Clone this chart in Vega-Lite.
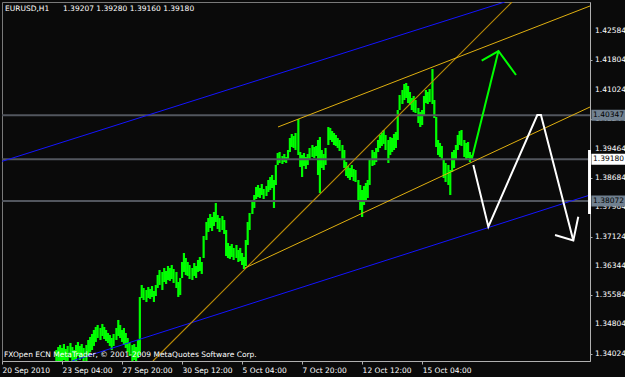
{
"$schema":"https://vega.github.io/schema/vega-lite/v6.json",
"width":588,"height":359,
"autosize":"none",
"padding":{"left":2,"top":2,"right":35,"bottom":16},
"background":"#0a0a0a",
"config":{"view":{"stroke":"#7a7a7a","strokeWidth":1},"font":"DejaVu Sans"},
"datasets":{
"bars":[
{"t":58,"h":1.34118,"l":1.33720},{"t":60,"h":1.34198,"l":1.33800},{"t":62,"h":1.34251,"l":1.33720},{"t":64,"h":1.34172,"l":1.33694},{"t":66,"h":1.34278,"l":1.33853},{"t":68,"h":1.34145,"l":1.33720},{"t":70,"h":1.34225,"l":1.33800},{"t":73,"h":1.34304,"l":1.33906},{"t":75,"h":1.34198,"l":1.33773},{"t":77,"h":1.34118,"l":1.33694},{"t":79,"h":1.34251,"l":1.33826},{"t":81,"h":1.34331,"l":1.33959},{"t":83,"h":1.34225,"l":1.33853},{"t":85,"h":1.34278,"l":1.33906},{"t":87,"h":1.34172,"l":1.33747},{"t":90,"h":1.34251,"l":1.33826},{"t":92,"h":1.34384,"l":1.33985},{"t":94,"h":1.34463,"l":1.34065},{"t":96,"h":1.34543,"l":1.34118},{"t":98,"h":1.34649,"l":1.34225},{"t":100,"h":1.34729,"l":1.34331},{"t":102,"h":1.34782,"l":1.34437},{"t":105,"h":1.34702,"l":1.34384},{"t":107,"h":1.34809,"l":1.34490},{"t":109,"h":1.34729,"l":1.34410},{"t":111,"h":1.34649,"l":1.34357},{"t":113,"h":1.34569,"l":1.34304},{"t":115,"h":1.34516,"l":1.34225},{"t":117,"h":1.34437,"l":1.34118},{"t":119,"h":1.34543,"l":1.34225},{"t":122,"h":1.34702,"l":1.34384},{"t":124,"h":1.34915,"l":1.34490},{"t":126,"h":1.34782,"l":1.34437},{"t":128,"h":1.34649,"l":1.34331},{"t":130,"h":1.34702,"l":1.34251},{"t":132,"h":1.34569,"l":1.34172},{"t":134,"h":1.34437,"l":1.34065},{"t":136,"h":1.34331,"l":1.33959},{"t":139,"h":1.34251,"l":1.33800},{"t":141,"h":1.34278,"l":1.33853},{"t":143,"h":1.34198,"l":1.33747},{"t":145,"h":1.34384,"l":1.33906},
{"t":147,"h":1.35525,"l":1.33985},{"t":149,"h":1.35843,"l":1.35498},{"t":151,"h":1.35764,"l":1.35445},{"t":154,"h":1.35711,"l":1.35392},{"t":156,"h":1.35790,"l":1.35498},{"t":158,"h":1.35737,"l":1.35472},{"t":160,"h":1.35817,"l":1.35525},{"t":162,"h":1.35684,"l":1.35392},{"t":164,"h":1.35843,"l":1.35551},{"t":166,"h":1.36109,"l":1.35764},{"t":168,"h":1.36242,"l":1.35843},{"t":171,"h":1.36189,"l":1.35711},{"t":173,"h":1.36295,"l":1.35923},{"t":175,"h":1.36215,"l":1.35870},{"t":177,"h":1.36348,"l":1.35976},{"t":179,"h":1.36295,"l":1.35950},{"t":181,"h":1.36374,"l":1.36003},{"t":183,"h":1.36268,"l":1.35896},{"t":186,"h":1.36189,"l":1.35764},{"t":188,"h":1.35923,"l":1.35525},{"t":190,"h":1.36029,"l":1.35578},{"t":192,"h":1.36454,"l":1.36029},{"t":194,"h":1.36692,"l":1.36189},{"t":196,"h":1.36560,"l":1.36109},{"t":198,"h":1.36454,"l":1.36083},{"t":200,"h":1.36374,"l":1.36003},{"t":203,"h":1.36295,"l":1.35976},{"t":205,"h":1.36427,"l":1.36083},{"t":207,"h":1.36348,"l":1.36029},{"t":209,"h":1.36507,"l":1.36189},{"t":211,"h":1.36587,"l":1.36215},{"t":213,"h":1.36454,"l":1.36136},
{"t":215,"h":1.37144,"l":1.36560},{"t":218,"h":1.37515,"l":1.37038},{"t":220,"h":1.37621,"l":1.37250},{"t":222,"h":1.37727,"l":1.37356},{"t":224,"h":1.37648,"l":1.37276},{"t":226,"h":1.37781,"l":1.37409},{"t":228,"h":1.38019,"l":1.37515},{"t":230,"h":1.37701,"l":1.37329},{"t":232,"h":1.37621,"l":1.37250},{"t":235,"h":1.37674,"l":1.37303},{"t":237,"h":1.37568,"l":1.37197},{"t":239,"h":1.37303,"l":1.36613},{"t":241,"h":1.36958,"l":1.36560},{"t":243,"h":1.36879,"l":1.36534},{"t":245,"h":1.36932,"l":1.36587},{"t":247,"h":1.36826,"l":1.36507},{"t":250,"h":1.36905,"l":1.36560},{"t":252,"h":1.36772,"l":1.36454},{"t":254,"h":1.36826,"l":1.36480},{"t":256,"h":1.36692,"l":1.36374},{"t":258,"h":1.36587,"l":1.36268},{"t":260,"h":1.37038,"l":1.36348},{"t":262,"h":1.37515,"l":1.36905},{"t":264,"h":1.37754,"l":1.37303},{"t":267,"h":1.38099,"l":1.37727},{"t":269,"h":1.38232,"l":1.37887},{"t":271,"h":1.38444,"l":1.38126},{"t":273,"h":1.38497,"l":1.38179},{"t":275,"h":1.38418,"l":1.38152},{"t":277,"h":1.38524,"l":1.38232},{"t":279,"h":1.38391,"l":1.38126},{"t":282,"h":1.38471,"l":1.38205},{"t":284,"h":1.38630,"l":1.38312},{"t":286,"h":1.38709,"l":1.38365},{"t":288,"h":1.38763,"l":1.38418},{"t":290,"h":1.38630,"l":1.37887},{"t":292,"h":1.39028,"l":1.38497},{"t":294,"h":1.39347,"l":1.39028},{"t":296,"h":1.39373,"l":1.39081},{"t":299,"h":1.39267,"l":1.39055},{"t":301,"h":1.39320,"l":1.39108},{"t":303,"h":1.39241,"l":1.39081},{"t":305,"h":1.39426,"l":1.39161},{"t":307,"h":1.39745,"l":1.39373},{"t":309,"h":1.39851,"l":1.39506},{"t":311,"h":1.39798,"l":1.39479},{"t":313,"h":1.39877,"l":1.39426},{"t":316,"h":1.40249,"l":1.39294},{"t":318,"h":1.39373,"l":1.38975},{"t":320,"h":1.39294,"l":1.38709},{"t":322,"h":1.39347,"l":1.39002},{"t":324,"h":1.39241,"l":1.38922},{"t":326,"h":1.39320,"l":1.39028},{"t":328,"h":1.39479,"l":1.39161},{"t":331,"h":1.39559,"l":1.39241},{"t":333,"h":1.39506,"l":1.39214},{"t":335,"h":1.39533,"l":1.39267},{"t":337,"h":1.39692,"l":1.38763},{"t":339,"h":1.39771,"l":1.38285},{"t":341,"h":1.39426,"l":1.38949},{"t":343,"h":1.39320,"l":1.38895},{"t":345,"h":1.39479,"l":1.39028},{"t":348,"h":1.40036,"l":1.39559},{"t":350,"h":1.40010,"l":1.39692},{"t":352,"h":1.39931,"l":1.39639},{"t":354,"h":1.39877,"l":1.39559},{"t":356,"h":1.39824,"l":1.39533},{"t":358,"h":1.39745,"l":1.39479},{"t":360,"h":1.39692,"l":1.39400},{"t":363,"h":1.39559,"l":1.39161},{"t":365,"h":1.39426,"l":1.38949},{"t":367,"h":1.39108,"l":1.38736},{"t":369,"h":1.39002,"l":1.38683},{"t":371,"h":1.38949,"l":1.38630},{"t":373,"h":1.39028,"l":1.38709},{"t":375,"h":1.38922,"l":1.38603},{"t":377,"h":1.38895,"l":1.38577},{"t":380,"h":1.38630,"l":1.38099},{"t":382,"h":1.38497,"l":1.37834},{"t":384,"h":1.38365,"l":1.37648},{"t":386,"h":1.38471,"l":1.37966},{"t":388,"h":1.38550,"l":1.38099},{"t":390,"h":1.38630,"l":1.38152},{"t":392,"h":1.39161,"l":1.38497},{"t":395,"h":1.39426,"l":1.39002},{"t":397,"h":1.39373,"l":1.39028},{"t":399,"h":1.39479,"l":1.39108},{"t":401,"h":1.39692,"l":1.39373},{"t":403,"h":1.39824,"l":1.39479},{"t":405,"h":1.39877,"l":1.39533},{"t":407,"h":1.39957,"l":1.39586},{"t":409,"h":1.39824,"l":1.39426},{"t":412,"h":1.39692,"l":1.39081},{"t":414,"h":1.39771,"l":1.39294},{"t":416,"h":1.39745,"l":1.39373},{"t":418,"h":1.39851,"l":1.39426},{"t":420,"h":1.39904,"l":1.39479},{"t":422,"h":1.40488,"l":1.39692},{"t":424,"h":1.40886,"l":1.40488},{"t":427,"h":1.41018,"l":1.40647},{"t":429,"h":1.41178,"l":1.40753},{"t":431,"h":1.41204,"l":1.40806},{"t":433,"h":1.41125,"l":1.40673},{"t":435,"h":1.40965,"l":1.40620},{"t":437,"h":1.40806,"l":1.40488},{"t":439,"h":1.40859,"l":1.40435},{"t":441,"h":1.40753,"l":1.40408},{"t":444,"h":1.40541,"l":1.40143},{"t":446,"h":1.40435,"l":1.40036},{"t":448,"h":1.40488,"l":1.40090},{"t":450,"h":1.40859,"l":1.40355},{"t":452,"h":1.41018,"l":1.40673},{"t":454,"h":1.40965,"l":1.40647},{"t":456,"h":1.41045,"l":1.40700},{"t":459,"h":1.41575,"l":1.40647},{"t":461,"h":1.40753,"l":1.40275},{"t":463,"h":1.40302,"l":1.39506},{"t":465,"h":1.39692,"l":1.39294},{"t":467,"h":1.39612,"l":1.39241},{"t":469,"h":1.39533,"l":1.39161},{"t":471,"h":1.39161,"l":1.38683},{"t":473,"h":1.39081,"l":1.38577},{"t":476,"h":1.39028,"l":1.38497},{"t":478,"h":1.38895,"l":1.38232},{"t":480,"h":1.39373,"l":1.38842},{"t":482,"h":1.39426,"l":1.38949},{"t":484,"h":1.39559,"l":1.39161},{"t":486,"h":1.39824,"l":1.39426},{"t":488,"h":1.39931,"l":1.39559},{"t":490,"h":1.39957,"l":1.39533},{"t":493,"h":1.39692,"l":1.39241},{"t":495,"h":1.39612,"l":1.39161},{"t":497,"h":1.39639,"l":1.39214},{"t":499,"h":1.39373,"l":1.39108},{"t":501,"h":1.39294,"l":1.39161}
],
"lines":[
{"id":"blueU","o":0,"t":0,"p":1.39124},{"id":"blueU","o":1,"t":536.1,"p":1.43354},
{"id":"blueL","o":0,"t":74.6,"p":1.33826},{"id":"blueL","o":1,"t":627,"p":1.38232},
{"id":"steep","o":0,"t":161.0,"p":1.33826},{"id":"steep","o":1,"t":543.8,"p":1.43354},
{"id":"chanL","o":0,"t":259.1,"p":1.36295},{"id":"chanL","o":1,"t":627,"p":1.40567},
{"id":"chanU","o":0,"t":294.3,"p":1.40037},{"id":"chanU","o":1,"t":627,"p":1.43248},
{"id":"gShaft","o":0,"t":501.2,"p":1.39214},{"id":"gShaft","o":1,"t":529.4,"p":1.42053},
{"id":"gHead","o":0,"t":511.5,"p":1.41796},{"id":"gHead","o":1,"t":529.4,"p":1.42053},{"id":"gHead","o":2,"t":548.1,"p":1.41416},
{"id":"white","o":0,"t":502.6,"p":1.39028},{"id":"white","o":1,"t":518.6,"p":1.37390},{"id":"white","o":2,"t":570.8,"p":1.40355},{"id":"white","o":3,"t":574.7,"p":1.40355},{"id":"white","o":4,"t":609.2,"p":1.37024},
{"id":"wHead","o":0,"t":589.7,"p":1.37170},{"id":"wHead","o":1,"t":609.2,"p":1.37024},{"id":"wHead","o":2,"t":614.5,"p":1.37656}
],
"levels":[{"p":1.40347,"kind":"level"},{"p":1.39180,"kind":"bid"},{"p":1.38072,"kind":"level"}],
"yticks":[{"v":1.34024},{"v":1.34804},{"v":1.35584},{"v":1.36344},{"v":1.37124},{"v":1.37904},{"v":1.38684},{"v":1.39464},{"v":1.40244},{"v":1.41024},{"v":1.41804},{"v":1.42584}]
},
"layer":[
{"data":{"name":"bars"},"mark":{"type":"rule","color":"#00ff00","strokeWidth":2.2,"clip":true},
 "encoding":{
  "x":{"field":"t","type":"quantitative","scale":{"domain":[0,627],"nice":false,"zero":false},
   "axis":{"title":null,"values":[0,64,128,192,256,320,384,448],
    "labelExpr":"['20 Sep 2010','23 Sep 04:00','27 Sep 20:00','30 Sep 12:00','5 Oct 04:00','7 Oct 20:00','12 Oct 12:00','15 Oct 04:00'][round(datum.value/64)]",
    "labelAlign":"left","labelDx":1,"labelBaseline":"top","labelPadding":2,"labelFlush":false,"labelOverlap":false,"labelBound":false,
    "labelColor":"#ffffff","labelFont":"DejaVu Sans","labelFontSize":7.5,"tickSize":3,"tickColor":"#b0b0b0","domainColor":"#b0b0b0","grid":false}},
  "y":{"field":"l","type":"quantitative","scale":{"domain":[1.33826,1.43354],"nice":false,"zero":false},
   "axis":{"title":null,"orient":"right","values":[1.34024,1.34804,1.35584,1.36344,1.37124,1.37904,1.38684,1.39464,1.40244,1.41024,1.41804,1.42584],
    "labels":false,"tickSize":2,"tickColor":"#b0b0b0","domainColor":"#b0b0b0","grid":false}},
  "y2":{"field":"h"}
 }},
{"data":{"name":"levels"},"mark":{"type":"rule","color":"#52565e","strokeWidth":2},
 "encoding":{"y":{"field":"p","type":"quantitative"}}},
{"data":{"name":"lines"},"transform":[{"filter":{"field":"id","oneOf":["blueU","blueL"]}}],
 "mark":{"type":"line","strokeWidth":1,"color":"#1414ff","clip":true},
 "encoding":{"x":{"field":"t","type":"quantitative"},"y":{"field":"p","type":"quantitative"},"detail":{"field":"id"},"order":{"field":"o","type":"quantitative"}}},
{"data":{"name":"lines"},"transform":[{"filter":{"field":"id","equal":"steep"}}],
 "mark":{"type":"line","strokeWidth":1.2,"color":"#b88a08","clip":true},
 "encoding":{"x":{"field":"t","type":"quantitative"},"y":{"field":"p","type":"quantitative"},"order":{"field":"o","type":"quantitative"}}},
{"data":{"name":"lines"},"transform":[{"filter":{"field":"id","oneOf":["chanL","chanU"]}}],
 "mark":{"type":"line","strokeWidth":1,"color":"#e0b010","clip":true},
 "encoding":{"x":{"field":"t","type":"quantitative"},"y":{"field":"p","type":"quantitative"},"detail":{"field":"id"},"order":{"field":"o","type":"quantitative"}}},
{"data":{"name":"lines"},"transform":[{"filter":{"field":"id","oneOf":["gShaft","gHead"]}}],
 "mark":{"type":"line","strokeWidth":2,"color":"#00ff00","clip":true},
 "encoding":{"x":{"field":"t","type":"quantitative"},"y":{"field":"p","type":"quantitative"},"detail":{"field":"id"},"order":{"field":"o","type":"quantitative"}}},
{"data":{"name":"lines"},"transform":[{"filter":{"field":"id","oneOf":["white","wHead"]}}],
 "mark":{"type":"line","strokeWidth":2,"color":"#ffffff","clip":true},
 "encoding":{"x":{"field":"t","type":"quantitative"},"y":{"field":"p","type":"quantitative"},"detail":{"field":"id"},"order":{"field":"o","type":"quantitative"}}},
{"data":{"name":"yticks"},"mark":{"type":"text","align":"left","baseline":"middle","font":"DejaVu Sans","fontSize":7.5,"color":"#ffffff","clip":false},
 "encoding":{"x":{"datum":632.3},"y":{"field":"v","type":"quantitative"},"text":{"field":"v","type":"quantitative","format":".5f"}}},
{"data":{"name":"levels"},"mark":{"type":"rule","strokeWidth":11,"clip":false},
 "encoding":{"x":{"datum":628.5},"x2":{"datum":668},"y":{"field":"p","type":"quantitative"},
  "stroke":{"field":"kind","type":"nominal","legend":null,"scale":{"domain":["level","bid"],"range":["#708090","#ffffff"]}}}},
{"data":{"name":"levels"},"mark":{"type":"text","align":"left","baseline":"middle","font":"DejaVu Sans","fontSize":7.5,"color":"#000000","clip":false},
 "encoding":{"x":{"datum":630.2},"y":{"field":"p","type":"quantitative"},"text":{"field":"p","type":"quantitative","format":".5f"}}},
{"data":{"values":[{}]},"mark":{"type":"rule","color":"#ffffff","strokeWidth":3,"clip":false},
 "encoding":{"x":{"datum":626.5},"y":{"datum":1.39426},"y2":{"datum":1.37728}}},
{"data":{"values":[{}]},"mark":{"type":"text","align":"left","baseline":"middle","font":"DejaVu Sans","fontSize":7.5,"color":"#ffffff","text":"EURUSD,H1"},
 "encoding":{"x":{"datum":3.2},"y":{"datum":1.43155}}},
{"data":{"values":[{}]},"mark":{"type":"text","align":"left","baseline":"middle","font":"DejaVu Sans","fontSize":7.5,"color":"#ffffff","text":"1.39207 1.39280 1.39160 1.39180"},
 "encoding":{"x":{"datum":65.0},"y":{"datum":1.43155}}},
{"data":{"values":[{}]},"mark":{"type":"text","align":"left","baseline":"middle","font":"DejaVu Sans","fontSize":7.5,"color":"#ffffff","text":"FXOpen ECN MetaTrader, © 2001-2009 MetaQuotes Software Corp."},
 "encoding":{"x":{"datum":2.1},"y":{"datum":1.33994}}}
]
}
